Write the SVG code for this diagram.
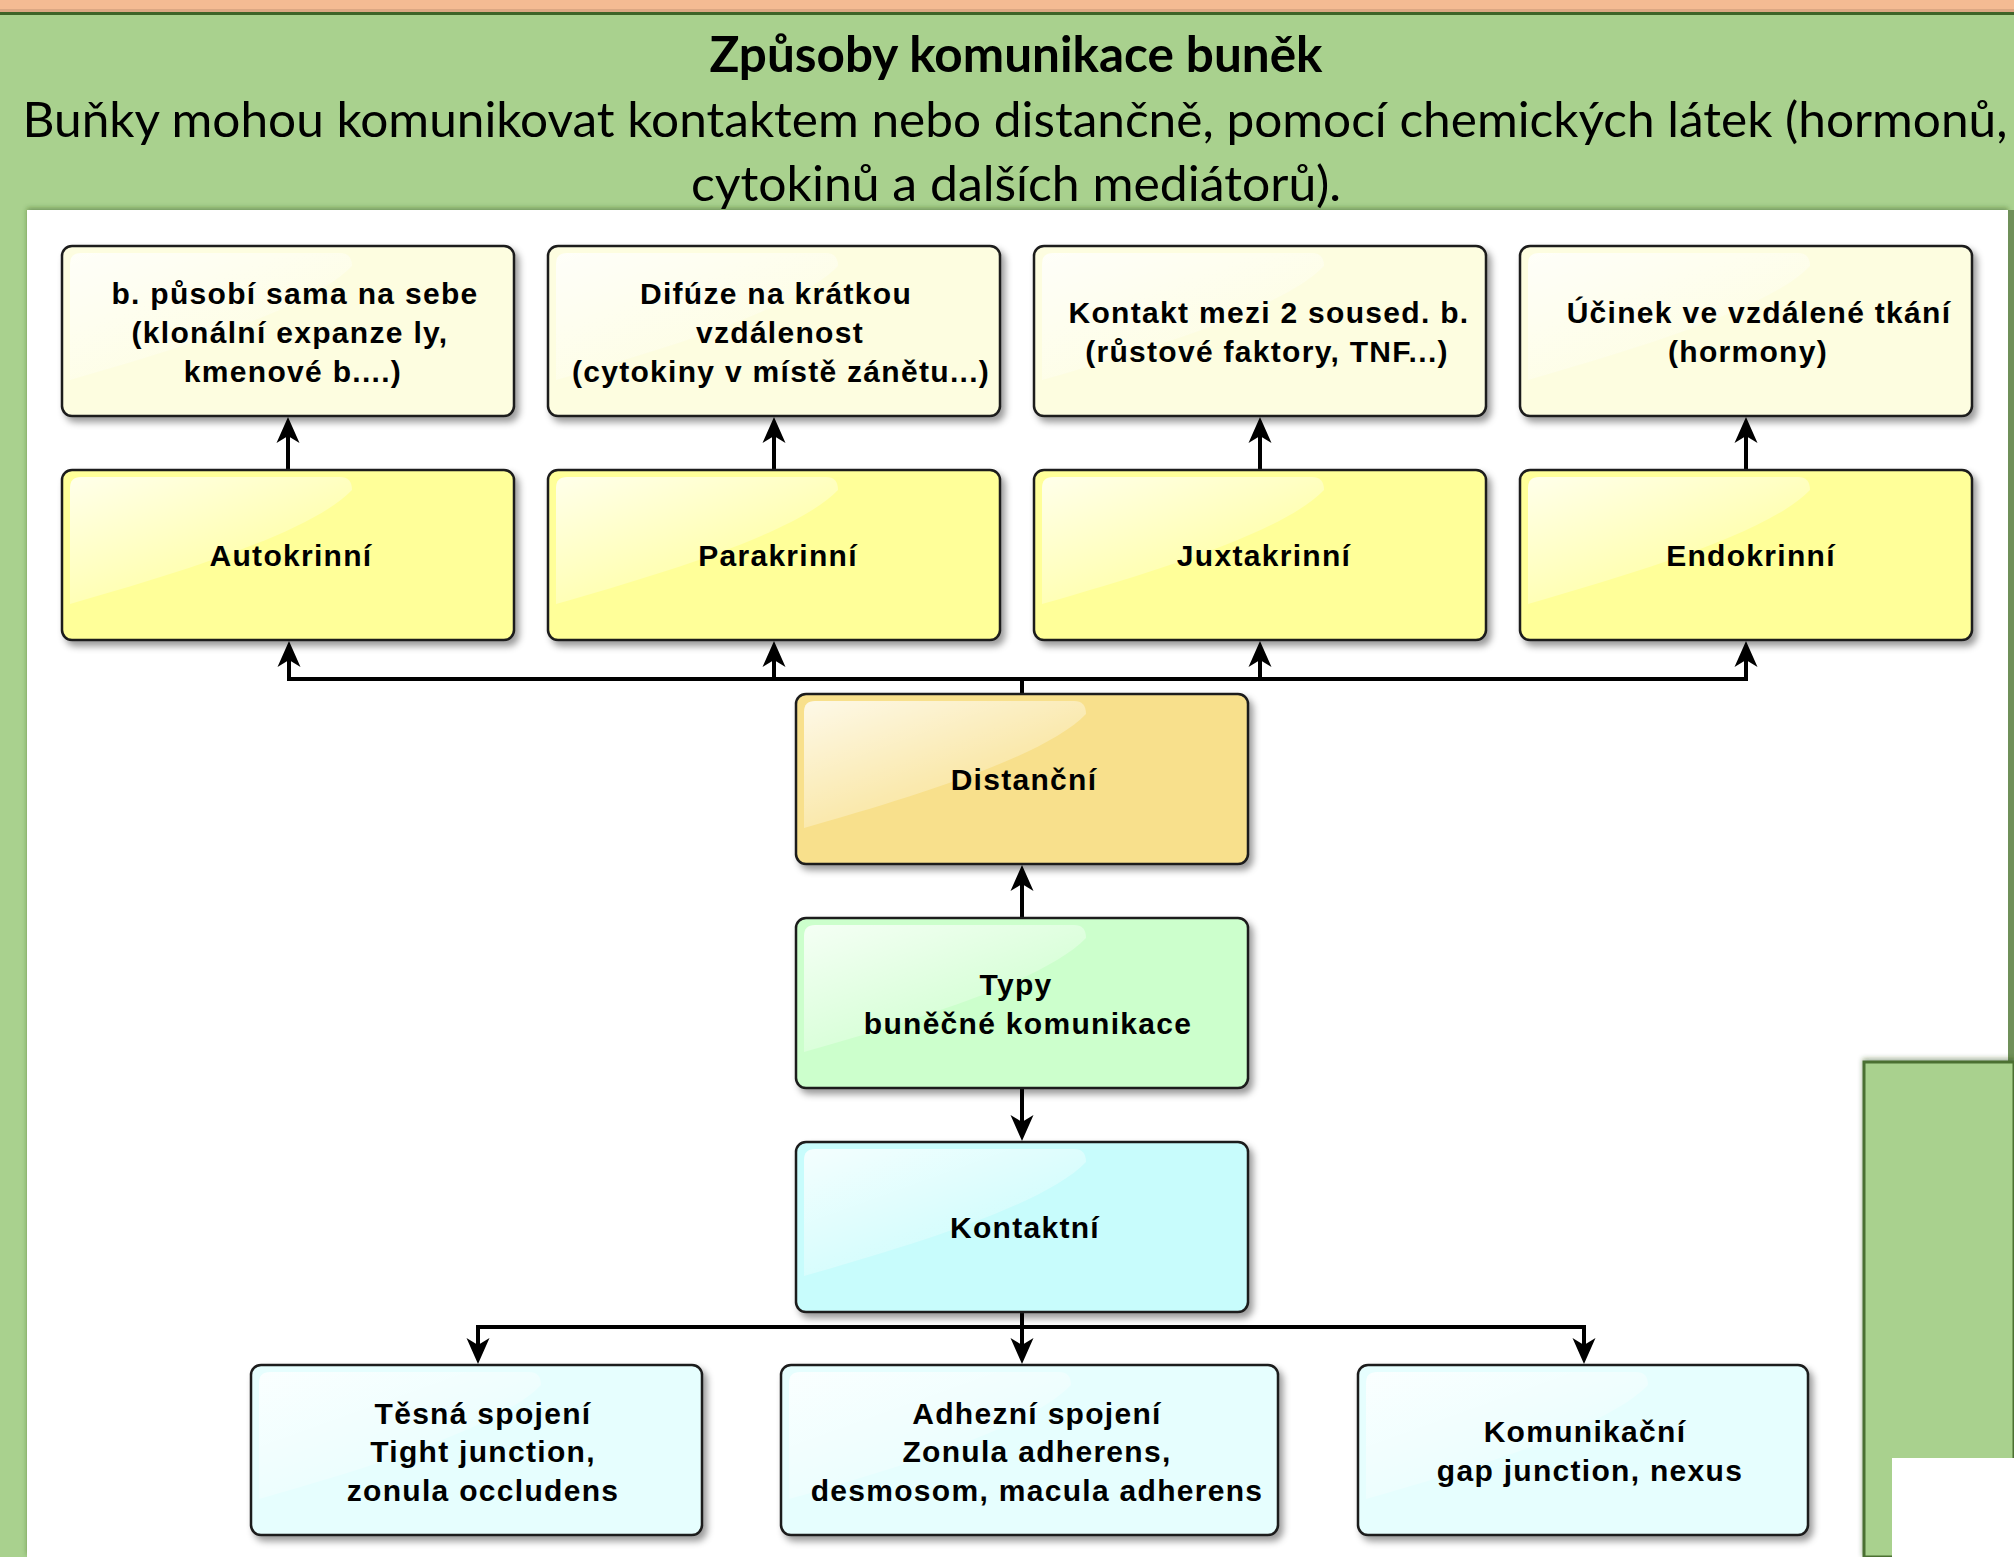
<svg xmlns="http://www.w3.org/2000/svg" xmlns:xlink="http://www.w3.org/1999/xlink" width="2014" height="1557" viewBox="0 0 2014 1557">
  <defs>
    <style>
      .box { stroke: #1a1a1a; stroke-width: 2.5; filter: url(#shadow); }
      .lbl { font-family: "Liberation Sans", Arial, Helvetica, sans-serif; font-weight: bold; font-size: 30px; letter-spacing: 1.3px; text-anchor: middle; fill: #000; }
      .ttl { font-family: Lato, "Open Sans", "Liberation Sans", sans-serif; font-size: 49px; text-anchor: middle; fill: #000; }
      .conn { fill: none; stroke: #000; stroke-width: 4; }
      .cream { fill: #FDFDE0; }
      .yellow { fill: #FFFF99; }
      .orange { fill: #F8E08C; }
      .green { fill: #CCFFCC; }
      .cyan { fill: #C8FCFC; }
      .lcyan { fill: #E6FEFE; }
    </style>
    <filter id="shadow" x="-10%" y="-10%" width="125%" height="130%">
      <feDropShadow dx="4" dy="5" stdDeviation="3.5" flood-color="#000" flood-opacity="0.4"/>
    </filter>
    <filter id="pshadow" x="-5%" y="-5%" width="110%" height="110%">
      <feDropShadow dx="0" dy="-2" stdDeviation="2.5" flood-color="#2f4f1f" flood-opacity="0.45"/>
    </filter>
    <linearGradient id="glossGrad" x1="0" y1="0" x2="0.8" y2="1">
      <stop offset="0" stop-color="#fff" stop-opacity="0.8"/>
      <stop offset="0.6" stop-color="#fff" stop-opacity="0.3"/>
      <stop offset="1" stop-color="#fff" stop-opacity="0.05"/>
    </linearGradient>
    <path id="gloss" d="M8,18 Q8,7 19,7 H278 Q290,7 290,20 C250,62 120,102 8,134 Z" fill="url(#glossGrad)"/>
    <marker id="arr" markerUnits="userSpaceOnUse" viewBox="0 0 26 24" markerWidth="26" markerHeight="24" refX="16" refY="12" orient="auto">
      <path d="M26,12 L0,0.5 L7,12 L0,23.5 Z" fill="#000"/>
    </marker>
  </defs>

  <!-- background -->
  <rect x="0" y="0" width="2014" height="1557" fill="#A9D18E"/>
  <rect x="0" y="0" width="2014" height="12" fill="#F4BB93"/>
  <rect x="0" y="9" width="2014" height="4" fill="#c99a78" opacity="0.6"/>
  <rect x="0" y="12" width="2014" height="3" fill="#3E6428"/>
  <rect x="27" y="210" width="1981" height="1347" fill="#FFFFFF" filter="url(#pshadow)"/>
  <rect x="2008" y="210" width="6" height="853" fill="#6F9059"/>
  <rect x="1864" y="1062" width="150" height="495" fill="#A9D18E" stroke="#4B7033" stroke-width="3" filter="url(#pshadow)"/>
  <rect x="1892" y="1458" width="122" height="99" fill="#FFFFFF"/>

  <!-- title -->
  <g id="title">
    <text class="ttl" x="1016" y="72" font-weight="bold" textLength="613" lengthAdjust="spacingAndGlyphs">Způsoby komunikace buněk</text>
    <text class="ttl" x="1015" y="137" textLength="1985" lengthAdjust="spacingAndGlyphs">Buňky mohou komunikovat kontaktem nebo distančně, pomocí chemických látek (hormonů,</text>
    <text class="ttl" x="1016" y="201" textLength="650" lengthAdjust="spacingAndGlyphs">cytokinů a dalších mediátorů).</text>
  </g>

  <!-- connectors -->
  <g id="connectors">
    <path class="conn" d="M288,470 V427" marker-end="url(#arr)"/>
    <path class="conn" d="M774,470 V427" marker-end="url(#arr)"/>
    <path class="conn" d="M1260,470 V427" marker-end="url(#arr)"/>
    <path class="conn" d="M1746,470 V427" marker-end="url(#arr)"/>
    <path class="conn" d="M289,679 H1746" stroke-linecap="square"/>
    <path class="conn" d="M1022,694 V679"/>
    <path class="conn" d="M289,679 V651" marker-end="url(#arr)"/>
    <path class="conn" d="M774,679 V651" marker-end="url(#arr)"/>
    <path class="conn" d="M1260,679 V651" marker-end="url(#arr)"/>
    <path class="conn" d="M1746,679 V651" marker-end="url(#arr)"/>
    <path class="conn" d="M1022,918 V875" marker-end="url(#arr)"/>
    <path class="conn" d="M1022,1088 V1131" marker-end="url(#arr)"/>
    <path class="conn" d="M1022,1312 V1327"/>
    <path class="conn" d="M478,1327 H1584" stroke-linecap="square"/>
    <path class="conn" d="M478,1327 V1354" marker-end="url(#arr)"/>
    <path class="conn" d="M1022,1327 V1354" marker-end="url(#arr)"/>
    <path class="conn" d="M1584,1327 V1354" marker-end="url(#arr)"/>
  </g>

  <!-- top row -->
  <g id="node-autokrinni-desc">
    <rect class="box cream" x="62" y="246" width="452" height="170" rx="10"/>
    <use href="#gloss" x="62" y="246"/>
    <text class="lbl" x="295" y="304">b. působí sama na sebe</text>
    <text class="lbl" x="290" y="343">(klonální expanze ly,</text>
    <text class="lbl" x="293" y="382">kmenové b....)</text>
  </g>
  <g id="node-parakrinni-desc">
    <rect class="box cream" x="548" y="246" width="452" height="170" rx="10"/>
    <use href="#gloss" x="548" y="246"/>
    <text class="lbl" x="776" y="304">Difúze na krátkou</text>
    <text class="lbl" x="780" y="343">vzdálenost</text>
    <text class="lbl" x="781" y="382">(cytokiny v místě zánětu...)</text>
  </g>
  <g id="node-juxtakrinni-desc">
    <rect class="box cream" x="1034" y="246" width="452" height="170" rx="10"/>
    <use href="#gloss" x="1034" y="246"/>
    <text class="lbl" x="1269" y="323">Kontakt mezi 2 soused. b.</text>
    <text class="lbl" x="1267" y="362">(růstové faktory, TNF...)</text>
  </g>
  <g id="node-endokrinni-desc">
    <rect class="box cream" x="1520" y="246" width="452" height="170" rx="10"/>
    <use href="#gloss" x="1520" y="246"/>
    <text class="lbl" x="1759" y="323">Účinek ve vzdálené tkání</text>
    <text class="lbl" x="1748" y="362">(hormony)</text>
  </g>

  <!-- yellow row -->
  <g id="node-autokrinni">
    <rect class="box yellow" x="62" y="470" width="452" height="170" rx="10"/>
    <use href="#gloss" x="62" y="470"/>
    <text class="lbl" x="291" y="566">Autokrinní</text>
  </g>
  <g id="node-parakrinni">
    <rect class="box yellow" x="548" y="470" width="452" height="170" rx="10"/>
    <use href="#gloss" x="548" y="470"/>
    <text class="lbl" x="778" y="566">Parakrinní</text>
  </g>
  <g id="node-juxtakrinni">
    <rect class="box yellow" x="1034" y="470" width="452" height="170" rx="10"/>
    <use href="#gloss" x="1034" y="470"/>
    <text class="lbl" x="1264" y="566">Juxtakrinní</text>
  </g>
  <g id="node-endokrinni">
    <rect class="box yellow" x="1520" y="470" width="452" height="170" rx="10"/>
    <use href="#gloss" x="1520" y="470"/>
    <text class="lbl" x="1751" y="566">Endokrinní</text>
  </g>

  <!-- center column -->
  <g id="node-distancni">
    <rect class="box orange" x="796" y="694" width="452" height="170" rx="10"/>
    <use href="#gloss" x="796" y="694"/>
    <text class="lbl" x="1024" y="790">Distanční</text>
  </g>
  <g id="node-typy">
    <rect class="box green" x="796" y="918" width="452" height="170" rx="10"/>
    <use href="#gloss" x="796" y="918"/>
    <text class="lbl" x="1016" y="995">Typy</text>
    <text class="lbl" x="1028" y="1034">buněčné komunikace</text>
  </g>
  <g id="node-kontaktni">
    <rect class="box cyan" x="796" y="1142" width="452" height="170" rx="10"/>
    <use href="#gloss" x="796" y="1142"/>
    <text class="lbl" x="1025" y="1238">Kontaktní</text>
  </g>

  <!-- bottom row -->
  <g id="node-tesna">
    <rect class="box lcyan" x="251" y="1365" width="451" height="170" rx="10"/>
    <use href="#gloss" x="251" y="1365"/>
    <text class="lbl" x="483" y="1424">Těsná spojení</text>
    <text class="lbl" x="483" y="1462">Tight junction,</text>
    <text class="lbl" x="483" y="1501">zonula occludens</text>
  </g>
  <g id="node-adhezni">
    <rect class="box lcyan" x="781" y="1365" width="497" height="170" rx="10"/>
    <use href="#gloss" x="781" y="1365"/>
    <text class="lbl" x="1037" y="1424">Adhezní spojení</text>
    <text class="lbl" x="1037" y="1462">Zonula adherens,</text>
    <text class="lbl" x="1037" y="1501">desmosom, macula adherens</text>
  </g>
  <g id="node-komunikacni">
    <rect class="box lcyan" x="1358" y="1365" width="450" height="170" rx="10"/>
    <use href="#gloss" x="1358" y="1365"/>
    <text class="lbl" x="1585" y="1442">Komunikační</text>
    <text class="lbl" x="1590" y="1481">gap junction, nexus</text>
  </g>
</svg>
